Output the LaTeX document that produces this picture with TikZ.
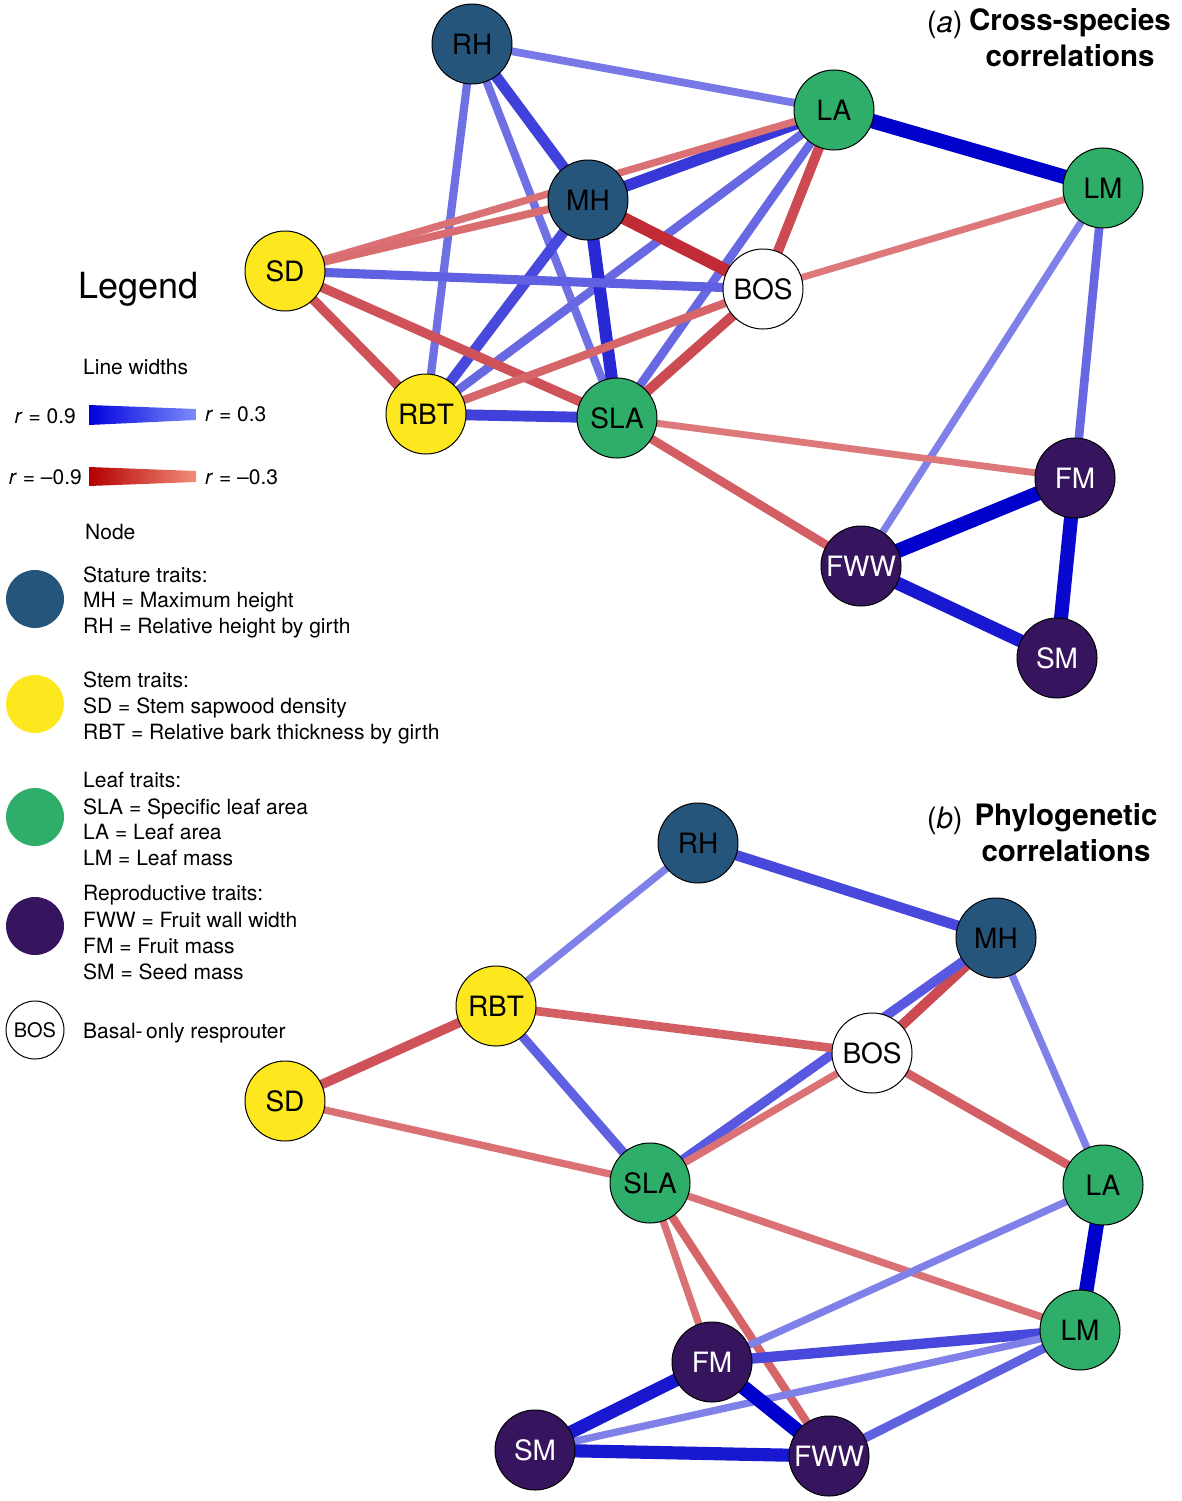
\documentclass[tikz,border=0pt]{standalone}
\usepackage{fontspec}
\setmainfont{TeX Gyre Heros}
\usetikzlibrary{backgrounds}
\definecolor{strb}{RGB}{0,0,204}
\definecolor{wkb}{RGB}{160,160,240}
\definecolor{strr}{RGB}{180,10,25}
\definecolor{wkr}{RGB}{228,140,140}
\definecolor{cstat}{RGB}{38,85,124}
\definecolor{cstem}{RGB}{253,231,30}
\definecolor{cleaf}{RGB}{47,174,106}
\definecolor{crepr}{RGB}{54,21,94}
\definecolor{lgb1}{RGB}{0,0,220}
\definecolor{lgb2}{RGB}{125,140,250}
\definecolor{lgr1}{RGB}{180,0,0}
\definecolor{lgr2}{RGB}{242,140,120}
\tikzset{
  trait/.style={circle, draw=black, line width=1pt, inner sep=0pt, minimum size=80pt,
    font=\fontsize{28}{32}\selectfont},
  stat/.style={trait, fill=cstat, text=black},
  stem/.style={trait, fill=cstem, text=black},
  leaf/.style={trait, fill=cleaf, text=black},
  repr/.style={trait, fill=crepr, text=white},
  bos/.style={trait, fill=white, text=black},
  legdot/.style={circle, inner sep=0pt, minimum size=58pt},
  legtxt/.style={anchor=base west, inner sep=0pt, font=\fontsize{21}{24}\selectfont},
  ttl/.style={inner sep=0pt, font=\fontsize{29.5}{36}\selectfont\bfseries, align=center},
}
\begin{document}
\begin{tikzpicture}[x=1pt,y=-1pt]
\useasboundingbox (0,0) rectangle (1181,1501);
% ---------- panel (a) nodes
\node[stat] (aRH)  at (472,44)  {RH};
\node[leaf] (aLA)  at (834,110) {LA};
\node[leaf] (aLM)  at (1103,188) {LM};
\node[stat] (aMH)  at (588,200) {MH};
\node[stem] (aSD)  at (285,271) {SD};
\node[bos]  (aBOS) at (763,289) {BOS};
\node[stem] (aRBT) at (426,414) {RBT};
\node[leaf] (aSLA) at (617,418) {SLA};
\node[repr] (aFM)  at (1075,478) {FM};
\node[repr] (aFWW) at (861,566) {FWW};
\node[repr] (aSM)  at (1057,658) {SM};
% ---------- panel (b) nodes
\node[stat] (bRH)  at (698,843) {RH};
\node[stat] (bMH)  at (996,938) {MH};
\node[stem] (bRBT) at (496,1006) {RBT};
\node[bos]  (bBOS) at (872,1053) {BOS};
\node[stem] (bSD)  at (285,1101) {SD};
\node[leaf] (bSLA) at (650,1183) {SLA};
\node[leaf] (bLA)  at (1103,1185) {LA};
\node[leaf] (bLM)  at (1080,1330) {LM};
\node[repr] (bFM)  at (712,1362) {FM};
\node[repr] (bSM)  at (535,1450) {SM};
\node[repr] (bFWW) at (829,1456) {FWW};
% ---------- edges
\begin{pgfonlayer}{background}
\foreach \u/\v/\s/\c in {
  aRH/aLA/0.25/b, aRH/aMH/0.6/b, aRH/aRBT/0.3/b, aRH/aSLA/0.3/b,
  aLA/aLM/1.0/b, aLA/aMH/0.65/b, aSD/aLA/0.2/r, aSD/aMH/0.25/r,
  aLA/aBOS/0.5/r, aLA/aRBT/0.35/b, aLA/aSLA/0.35/b, aLM/aBOS/0.15/r,
  aLM/aFM/0.35/b, aLM/aFWW/0.2/b, aMH/aBOS/0.75/r, aMH/aRBT/0.55/b,
  aMH/aSLA/0.75/b, aSD/aBOS/0.4/b, aSD/aRBT/0.45/r, aSD/aSLA/0.45/r,
  aRBT/aSLA/0.6/b, aRBT/aBOS/0.3/r, aSLA/aBOS/0.5/r, aSLA/aFM/0.15/r,
  aSLA/aFWW/0.35/r, aFM/aFWW/1.0/b, aFM/aSM/0.95/b, aFWW/aSM/0.85/b,
  bRH/bMH/0.55/b, bRH/bRBT/0.2/b, bMH/bBOS/0.5/r, bMH/bSLA/0.45/b,
  bMH/bLA/0.2/b, bRBT/bBOS/0.35/r, bRBT/bSD/0.45/r, bRBT/bSLA/0.4/b,
  bSD/bSLA/0.2/r, bBOS/bLA/0.35/r, bBOS/bSLA/0.2/r, bSLA/bLM/0.2/r,
  bSLA/bFM/0.2/r, bSLA/bFWW/0.3/r, bLA/bLM/1.0/b, bLA/bFM/0.2/b,
  bLM/bFM/0.55/b, bLM/bSM/0.2/b, bLM/bFWW/0.4/b, bFM/bSM/0.85/b,
  bFM/bFWW/1.0/b, bSM/bFWW/0.85/b}
{
  \pgfmathsetmacro\pc{100*\s}
  \pgfmathsetmacro\lw{5.5+9*\s}
  \draw[line width=\lw pt, color=str\c!\pc!wk\c] (\u.center) -- (\v.center);
}
\end{pgfonlayer}
% ---------- titles
\node[inner sep=0pt, anchor=base east, font=\fontsize{29.5}{36}\selectfont] (ta) at (963,33) {(\textit{a})};
\node[ttl, anchor=north] (tac) at (1070,8) {Cross-species\\correlations};
\node[inner sep=0pt, anchor=base east, font=\fontsize{29.5}{36}\selectfont] (tb) at (963,828) {(\textit{b})};
\node[ttl, anchor=north] (tbc) at (1066,803) {Phylogenetic\\correlations};
% ---------- legend
\node[inner sep=0pt, anchor=base west, font=\fontsize{36}{40}\selectfont] (lg) at (78,298) {Legend};
\node[legtxt] (lw) at (83,374) {Line widths};
\shade[left color=lgb1, right color=lgb2] (89,405) coordinate (bb1) -- (196,409) -- (196,420) -- (89,425) -- cycle;
\shade[left color=lgr1, right color=lgr2] (89,467) coordinate (rb1) -- (196,471) -- (196,482) -- (89,486) -- cycle;
\node[legtxt, anchor=base east] (r1) at (76,423) {\textit{r} = 0.9};
\node[legtxt] (r2) at (205,421) {\textit{r} = 0.3};
\node[legtxt, anchor=base east] (r3) at (82,484) {\textit{r} = –0.9};
\node[legtxt] (r4) at (205,484) {\textit{r} = –0.3};
\node[legtxt] (nd) at (85,539) {Node};
\node[legdot, fill=cstat] (d1) at (35,599) {};
\node[legdot, fill=cstem] (d2) at (35,704) {};
\node[legdot, fill=cleaf] (d3) at (35,817) {};
\node[legdot, fill=crepr] (d4) at (35,926) {};
\node[legdot, fill=white, draw=black, line width=1pt, font=\fontsize{20}{24}\selectfont] (d5) at (35,1030) {BOS};
\node[legtxt] (t11) at (83,582) {Stature traits:};
\node[legtxt] (t12) at (83,607.5) {MH = Maximum height};
\node[legtxt] (t13) at (83,633) {RH = Relative height by girth};
\node[legtxt] (t21) at (83,687) {Stem traits:};
\node[legtxt] (t22) at (83,713) {SD = Stem sapwood density};
\node[legtxt] (t23) at (83,739) {RBT = Relative bark thickness by girth};
\node[legtxt] (t31) at (83,787) {Leaf traits:};
\node[legtxt] (t32) at (83,814) {SLA = Specific leaf area};
\node[legtxt] (t33) at (83,839) {LA = Leaf area};
\node[legtxt] (t34) at (83,865) {LM = Leaf mass};
\node[legtxt] (t41) at (83,900) {Reproductive traits:};
\node[legtxt] (t42) at (83,927) {FWW = Fruit wall width};
\node[legtxt] (t43) at (83,953) {FM = Fruit mass};
\node[legtxt] (t44) at (83,979) {SM = Seed mass};
\node[legtxt] (t51) at (83,1038) {Basal-\,only resprouter};
\end{tikzpicture}
\end{document}
